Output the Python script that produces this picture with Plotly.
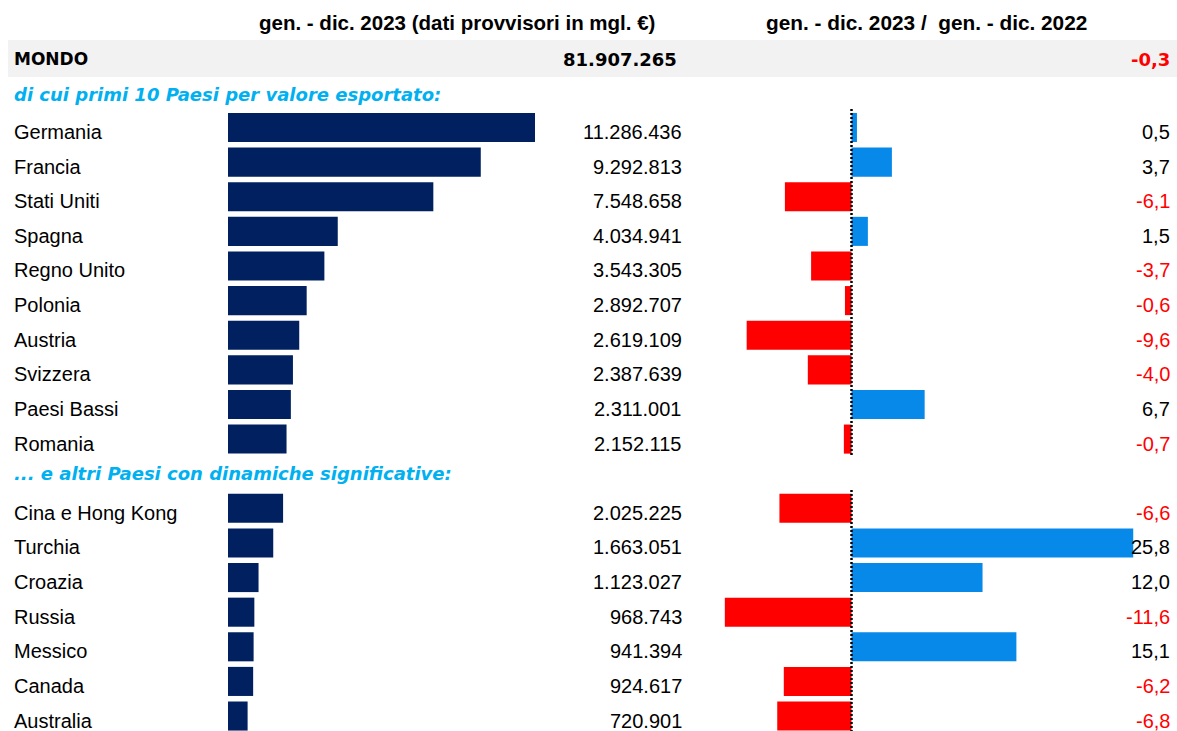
import plotly.graph_objects as go

# ---------------- data ----------------
header_left = "gen. - dic. 2023 (dati provvisori in mgl. €)"
header_right = "gen. - dic. 2023 /  gen. - dic. 2022"
world_label = "MONDO"
world_export = 81907265
world_var = -0.3
subtitle_top = "di cui primi 10 Paesi per valore esportato:"
subtitle_other = "... e altri Paesi con dinamiche significative:"

top_countries = ["Germania", "Francia", "Stati Uniti", "Spagna", "Regno Unito",
                 "Polonia", "Austria", "Svizzera", "Paesi Bassi", "Romania"]
top_exports = [11286436, 9292813, 7548658, 4034941, 3543305,
               2892707, 2619109, 2387639, 2311001, 2152115]
top_var = [0.5, 3.7, -6.1, 1.5, -3.7, -0.6, -9.6, -4.0, 6.7, -0.7]

other_countries = ["Cina e Hong Kong", "Turchia", "Croazia", "Russia",
                   "Messico", "Canada", "Australia"]
other_exports = [2025225, 1663051, 1123027, 968743, 941394, 924617, 720901]
other_var = [-6.6, 25.8, 12.0, -11.6, 15.1, -6.2, -6.8]

# ---------------- helpers ----------------
W, H = 1177, 731
PITCH = 34.62          # px per row
ROW0 = 127.5           # px centre of first bar


def px2row(py):
    return (py - ROW0) / PITCH


def fmt_int(v):
    return f"{v:,}".replace(",", ".")


def fmt_dec(v):
    return f"{v:.1f}".replace(".", ",")


countries = top_countries + other_countries
exports = top_exports + other_exports
variations = top_var + other_var
rows = list(range(len(top_countries))) + [len(top_countries) + 1 + k for k in range(len(other_countries))]

NAVY = "#002060"
BLUE = "#0789ea"
RED = "#ff0000"
CYAN = "#00b0f0"

fig = go.Figure()

fig.add_trace(go.Bar(
    x=exports, y=rows, orientation="h", width=0.84,
    marker=dict(color=NAVY, line=dict(width=0)),
    xaxis="x", yaxis="y", hoverinfo="skip", showlegend=False,
))
fig.add_trace(go.Bar(
    x=variations, y=rows, orientation="h", width=0.84,
    marker=dict(color=[BLUE if v >= 0 else RED for v in variations], line=dict(width=0)),
    xaxis="x2", yaxis="y", hoverinfo="skip", showlegend=False,
))

# axis geometry (pixel based)
left_scale = 307.0 / 11286436
left_dom = (228.0, 690.0)
right_zero_px, right_scale = 851.5, 10.92
right_dom = (700.0, 1177.0)

left_range = [0, (left_dom[1] - left_dom[0]) / left_scale]
right_range = [-(right_zero_px - right_dom[0]) / right_scale,
               (right_dom[1] - right_zero_px) / right_scale]

hidden = dict(showgrid=False, zeroline=False, showticklabels=False, showline=False, ticks="")
fig.update_layout(
    width=W, height=H,
    margin=dict(l=0, r=0, t=0, b=0),
    paper_bgcolor="white", plot_bgcolor="rgba(0,0,0,0)",
    barmode="overlay",
    xaxis=dict(domain=[left_dom[0] / W, left_dom[1] / W], range=left_range, **hidden),
    xaxis2=dict(domain=[right_dom[0] / W, right_dom[1] / W], range=right_range, anchor="y", **hidden),
    yaxis=dict(range=[px2row(H), px2row(0)], **hidden),
    font=dict(family="Liberation Sans, Arial", color="black"),
)

shapes = []
# grey world row
shapes.append(dict(type="rect", xref="paper", yref="y", x0=8 / W, x1=1.0,
                   y0=px2row(40), y1=px2row(77), fillcolor="#f2f2f2", line=dict(width=0), layer="below"))
# zero line, two segments
for y0p, y1p in [(109, 456), (490, 731)]:
    shapes.append(dict(type="line", xref="x2", yref="y", x0=0, x1=0,
                       y0=px2row(y0p), y1=px2row(y1p),
                       line=dict(color="black", width=2.5, dash="2px,2px")))
fig.update_layout(shapes=shapes)

ann = []
TXT_OFF = 4.5 / PITCH
name_font = dict(family="Liberation Sans, Arial", size=20, color="black")
for c, e, v, r in zip(countries, exports, variations, rows):
    ann.append(dict(text=c, x=12 / W, xref="paper", y=r + TXT_OFF, yref="y",
                    xanchor="left", yanchor="middle", showarrow=False, font=name_font))
    ann.append(dict(text=fmt_int(e), x=684 / W, xref="paper", y=r + TXT_OFF, yref="y",
                    xanchor="right", yanchor="middle", showarrow=False, font=name_font))
    ann.append(dict(text=fmt_dec(v), x=1172 / W, xref="paper", y=r + TXT_OFF, yref="y",
                    xanchor="right", yanchor="middle", showarrow=False,
                    font=dict(family="Liberation Sans, Arial", size=20,
                              color="black" if v >= 0 else RED)))

hdr_font = dict(family="Liberation Sans, Arial", size=20.5, color="black")
ann.append(dict(text=f"<b>{header_left}</b>", x=457 / W, xref="paper", y=px2row(22), yref="y",
                xanchor="center", yanchor="middle", showarrow=False, font=hdr_font))
ann.append(dict(text=f"<b>{header_right}</b>", x=926 / W, xref="paper", y=px2row(22), yref="y",
                xanchor="center", yanchor="middle", showarrow=False,
                font=dict(family="Liberation Sans, Arial", size=20.8, color="black")))

bold_v = dict(family="DejaVu Sans", size=17, color="black")
ann.append(dict(text=f"<b>{world_label}</b>", x=12 / W, xref="paper", y=px2row(59), yref="y",
                xanchor="left", yanchor="middle", showarrow=False, font=bold_v))
ann.append(dict(text=f"<b>{fmt_int(world_export)}</b>", x=679 / W, xref="paper", y=px2row(59), yref="y",
                xanchor="right", yanchor="middle", showarrow=False,
                font=dict(family="DejaVu Sans", size=18, color="black")))
ann.append(dict(text=f"<b>{fmt_dec(world_var)}</b>", x=1172 / W, xref="paper", y=px2row(59), yref="y",
                xanchor="right", yanchor="middle", showarrow=False,
                font=dict(family="DejaVu Sans", size=18, color=RED if world_var < 0 else "black")))

sub_font = dict(family="DejaVu Sans", size=18, color=CYAN)
ann.append(dict(text=f"<b><i>{subtitle_top}</i></b>", x=12 / W, xref="paper", y=px2row(94), yref="y",
                xanchor="left", yanchor="middle", showarrow=False, font=sub_font))
ann.append(dict(text=f"<b><i>{subtitle_other}</i></b>", x=12 / W, xref="paper", y=px2row(473), yref="y",
                xanchor="left", yanchor="middle", showarrow=False, font=sub_font))

fig.update_layout(annotations=ann)
fig.write_html(
    "out.html",
    config={"displayModeBar": False},
    post_script="document.body.style.margin='0';document.body.style.overflow='hidden';",
)
